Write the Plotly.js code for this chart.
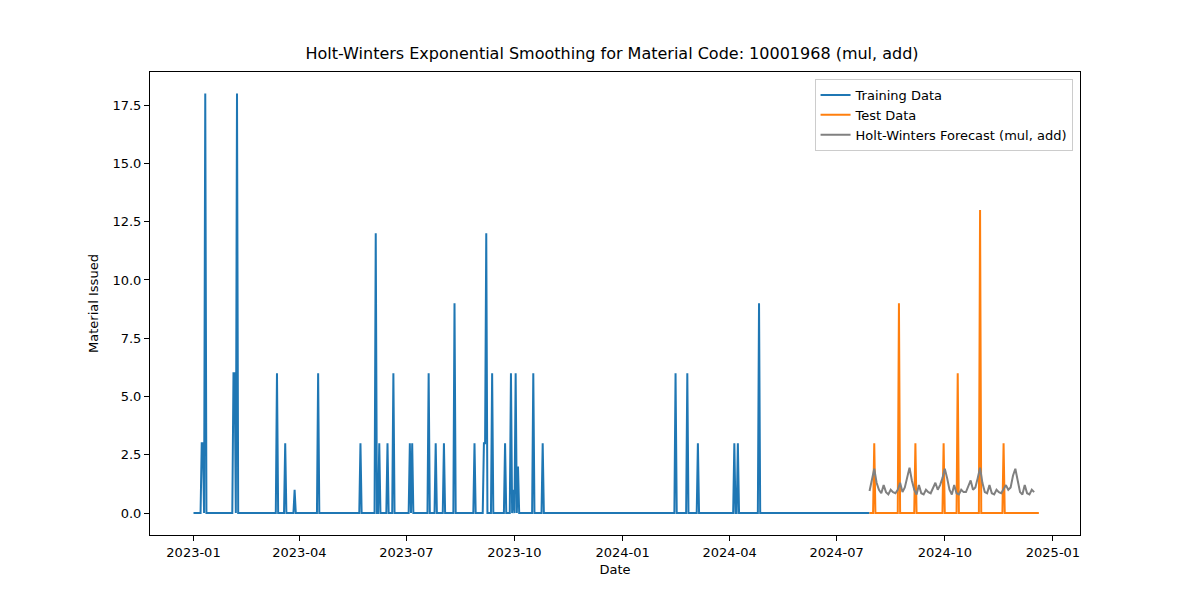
<!DOCTYPE html>
<html>
<head>
<meta charset="utf-8">
<script src="https://cdn.plot.ly/plotly-3.0.1.min.js"></script>
<style>body{margin:0;background:#fff}#chart{width:1200px;height:600px}</style>
</head>
<body>
<div id="chart"></div>
<script>
// Training data: non-zero days (all other days are 0)
var trainStart = '2023-01-01'
var trainEnd = '2024-07-29'
var trainSpikeDates = ['2023-01-08', '2023-01-09', '2023-01-11', '2023-02-04', '2023-02-05', '2023-02-07',
    '2023-03-13', '2023-03-20', '2023-03-28', '2023-04-17', '2023-05-23', '2023-06-05', '2023-06-08',
    '2023-06-15', '2023-06-20', '2023-07-04', '2023-07-06', '2023-07-20', '2023-07-26', '2023-08-02',
    '2023-08-11', '2023-08-28', '2023-09-05', '2023-09-06', '2023-09-07', '2023-09-12', '2023-09-23',
    '2023-09-28', '2023-09-30', '2023-10-02', '2023-10-04', '2023-10-17', '2023-10-25',
    '2024-02-15', '2024-02-25', '2024-03-05', '2024-04-05', '2024-04-08', '2024-04-26']
var trainSpikeValues = [3, 3, 18, 6, 6, 18,
    6, 3, 1, 6, 3, 12, 3,
    3, 6, 3, 3, 6, 3, 3,
    9, 3, 3, 3, 12, 6, 3,
    6, 1, 6, 2, 6, 3,
    6, 6, 3, 3, 3, 9]

// Test data
var testStart = '2024-07-29'
var testEnd = '2024-12-20'
var testSpikeDates = ['2024-08-02', '2024-08-23', '2024-09-06', '2024-09-30', '2024-10-12', '2024-10-31', '2024-11-20']
var testSpikeValues = [3, 9, 3, 3, 6, 13, 3]

// Forecast, one value every 2 days from 2024-07-29
var forecastStart = '2024-07-29'
var forecastStep = 2
var forecastValues = [
    0.95, 1.5, 1.9, 1.3, 1.0, 0.85, 1.2, 0.9, 0.8, 1.0, 0.9, 0.85, 1.0, 1.3, 0.9,
    1.1, 1.6, 1.95, 1.4, 1.0, 0.8, 1.2, 0.85, 0.8, 1.0, 0.9, 0.85, 1.1, 1.3, 1.0,
    1.2, 1.5, 1.9, 1.5, 1.0, 0.8, 1.2, 0.85, 0.8, 1.0, 0.9, 0.9, 1.2, 1.4, 1.0,
    1.1, 1.5, 1.95, 1.3, 0.9, 0.85, 1.2, 0.85, 0.8, 1.0, 0.9, 0.85, 1.0, 1.2, 1.0,
    1.1, 1.6, 1.9, 1.4, 0.9, 0.8, 1.2, 0.85, 0.8, 1.0, 0.9
]

function dailySeries(start, end, dates, values) {
    var x = [], y = []
    var d = new Date(start + 'T00:00:00Z'), e = new Date(end + 'T00:00:00Z')
    var lookup = {}
    dates.forEach(function (k, i) { lookup[k] = values[i] })
    while (d <= e) {
        var key = d.toISOString().slice(0, 10)
        x.push(key)
        y.push(lookup[key] || 0)
        d.setUTCDate(d.getUTCDate() + 1)
    }
    return {x: x, y: y}
}

var train = dailySeries(trainStart, trainEnd, trainSpikeDates, trainSpikeValues)
var test = dailySeries(testStart, testEnd, testSpikeDates, testSpikeValues)

var fx = []
var fd = new Date(forecastStart + 'T00:00:00Z')
forecastValues.forEach(function () {
    fx.push(fd.toISOString().slice(0, 10))
    fd.setUTCDate(fd.getUTCDate() + forecastStep)
})

var data = [
    {x: train.x, y: train.y, name: 'Training Data', type: 'scatter', mode: 'lines',
        line: {color: '#1f77b4', width: 2}},
    {x: test.x, y: test.y, name: 'Test Data', type: 'scatter', mode: 'lines',
        line: {color: '#ff7f0e', width: 2}},
    {x: fx, y: forecastValues, name: 'Holt-Winters Forecast (mul, add)', type: 'scatter', mode: 'lines',
        line: {color: '#808080', width: 2}}
]

var axisStyle = {
    showgrid: false, zeroline: false, showline: true, mirror: true,
    linecolor: '#000', linewidth: 1, ticks: 'outside', ticklen: 5, tickcolor: '#000',
    tickfont: {size: 13}
}

var layout = {
    width: 1200, height: 600,
    paper_bgcolor: '#fff', plot_bgcolor: '#fff',
    font: {family: 'DejaVu Sans', color: '#000', size: 13},
    margin: {l: 150, r: 120, t: 72, b: 65},
    title: {text: 'Holt-Winters Exponential Smoothing for Material Code: 10001968 (mul, add)',
        font: {size: 16}, x: 0.51, xanchor: 'center', y: 0.902, yanchor: 'bottom'},
    xaxis: Object.assign({}, axisStyle, {
        type: 'date', range: ['2022-11-25', '2025-01-24'],
        tickvals: ['2023-01-01', '2023-04-01', '2023-07-01', '2023-10-01', '2024-01-01',
            '2024-04-01', '2024-07-01', '2024-10-01', '2025-01-01'],
        tickformat: '%Y-%m',
        title: {text: 'Date', font: {size: 13}, standoff: 6}
    }),
    yaxis: Object.assign({}, axisStyle, {
        range: [-0.94, 18.92], tickvals: [0, 2.5, 5, 7.5, 10, 12.5, 15, 17.5],
        ticktext: ['0.0', '2.5', '5.0', '7.5', '10.0', '12.5', '15.0', '17.5'],
        title: {text: 'Material Issued', font: {size: 13}, standoff: 10}
    }),
    showlegend: true,
    legend: {x: 0.992, y: 0.985, xanchor: 'right', yanchor: 'top', bgcolor: 'rgba(255,255,255,0.8)',
        bordercolor: '#ccc', borderwidth: 1, font: {size: 13}, tracegroupgap: 0}
}

Plotly.newPlot('chart', data, layout, {displayModeBar: false, staticPlot: true})
</script>
</body>
</html>
